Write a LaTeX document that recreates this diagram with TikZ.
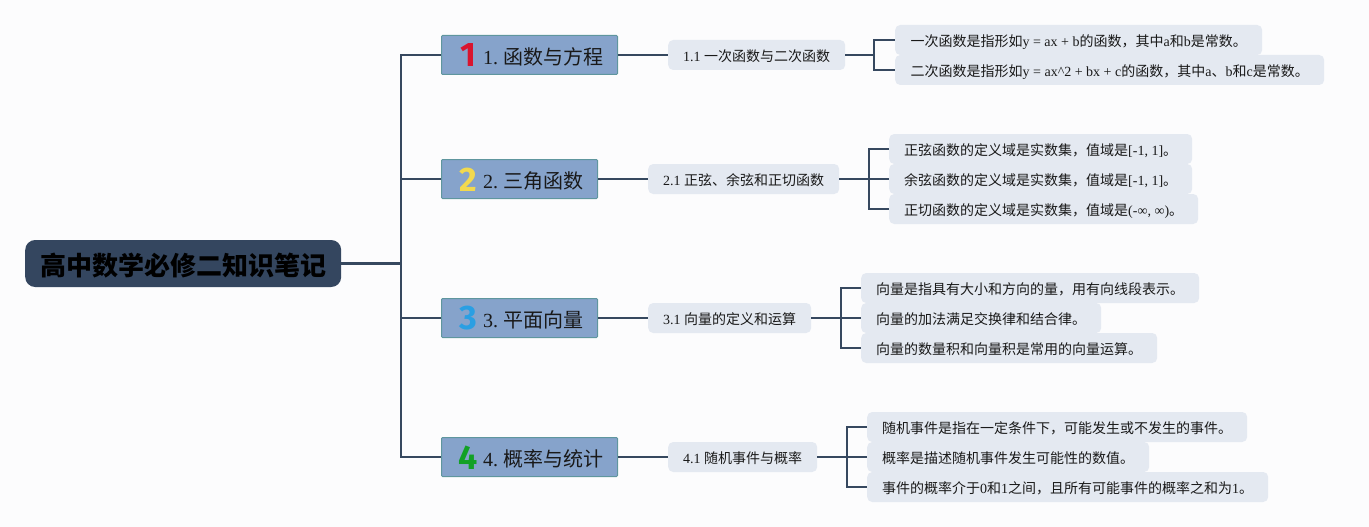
\documentclass[tikz,border=0pt]{standalone}
\usepackage{fontspec}
\setmainfont{Liberation Serif}
\newfontfamily\cjk{Noto Sans CJK SC}
\newfontfamily\marksfont{Fira Sans}
\newcommand{\zh}[1]{{\cjk #1}}
\definecolor{pagebg}{HTML}{FCFCFD}
\definecolor{rootfill}{HTML}{34465F}
\definecolor{topicfill}{HTML}{86A3CB}
\definecolor{topicedge}{HTML}{5F969E}
\definecolor{leaffill}{HTML}{E4E9F1}
\definecolor{linkcol}{HTML}{36485F}
\definecolor{markred}{HTML}{D9142E}
\definecolor{markyellow}{HTML}{F2D94E}
\definecolor{markblue}{HTML}{2A9FE3}
\definecolor{markgreen}{HTML}{12A125}
\tikzset{
  rootnode/.style={fill=rootfill,rounded corners=10pt,anchor=west,minimum width=316pt,minimum height=47pt,inner sep=0pt,text height=23pt,text depth=0pt,font=\fontsize{26}{30}\selectfont\cjk\bfseries,text=black},
  topicnode/.style={fill=topicfill,draw=topicedge,line width=1pt,rounded corners=1pt,anchor=west,minimum height=39pt,inner sep=0pt,text height=19pt,text depth=0pt,font=\fontsize{20}{24}\selectfont,text=black!90},
  subnode/.style={fill=leaffill,rounded corners=5pt,anchor=west,minimum height=30pt,inner sep=0pt,text height=12.5pt,text depth=0pt,font=\fontsize{14}{17}\selectfont,text=black!90},
  leafnode/.style={fill=leaffill,rounded corners=5pt,anchor=west,minimum height=30pt,inner sep=0pt,text height=12.5pt,text depth=0pt,font=\fontsize{14}{17}\selectfont,text=black!90},
  marknum/.style={inner sep=0pt,font=\fontsize{34}{36}\selectfont\marksfont\bfseries},
  linkline/.style={draw=linkcol,line width=2.2pt}
}
\begin{document}
\begin{tikzpicture}[x=1pt,y=-1pt]
\useasboundingbox (0,0) rectangle (1369,527);
\fill[pagebg] (0,0) rectangle (1369,527);
% connectors go first, the boxes sit on top
\coordinate (trunk) at (401,263.5);
\coordinate (fork1) at (874,55);
\coordinate (fork2) at (869,179);
\coordinate (fork3) at (841,318);
\coordinate (fork4) at (847,457);
% main boxes
\node[rootnode] (root) at (25,263.5) {高中数学必修二知识笔记};
\node[topicnode,minimum width=176pt] (topic1) at (441,55) {\hspace*{27pt}1.\hspace{5pt}\zh{函数与方程}};
\node[topicnode,minimum width=156pt] (topic2) at (441,179) {\hspace*{27pt}2.\hspace{5pt}\zh{三角函数}};
\node[topicnode,minimum width=156pt] (topic3) at (441,318) {\hspace*{27pt}3.\hspace{5pt}\zh{平面向量}};
\node[topicnode,minimum width=176pt] (topic4) at (441,457) {\hspace*{27pt}4.\hspace{5pt}\zh{概率与统计}};
\node[marknum,text=markred] (mark1) at (468.5,55.5) {1};
\node[marknum,text=markyellow] (mark2) at (468.5,179.5) {2};
\node[marknum,text=markblue] (mark3) at (468.5,318.5) {3};
\node[marknum,text=markgreen] (mark4) at (468.5,457.5) {4};
% second level
\node[subnode,minimum width=177pt] (sub1) at (668,55) {1.1 \zh{一次函数与二次函数}};
\node[subnode,minimum width=191pt] (sub2) at (648,179) {2.1 \zh{正弦、余弦和正切函数}};
\node[subnode,minimum width=163pt] (sub3) at (648,318) {3.1 \zh{向量的定义和运算}};
\node[subnode,minimum width=149pt] (sub4) at (668,457) {4.1 \zh{随机事件与概率}};
% leaves
\node[leafnode,minimum width=367pt] (leaf11) at (895,40) {\zh{一次函数是指形如}y = ax + b\zh{的函数，其中}a\zh{和}b\zh{是常数。}};
\node[leafnode,minimum width=429pt] (leaf12) at (895,70) {\zh{二次函数是指形如}y = ax\textasciicircum 2 + bx + c\zh{的函数，其中}a\zh{、}b\zh{和}c\zh{是常数。}};
\node[leafnode,minimum width=303pt] (leaf21) at (889,149) {\zh{正弦函数的定义域是实数集，值域是}[-1, 1]\zh{。}};
\node[leafnode,minimum width=303pt] (leaf22) at (889,179) {\zh{余弦函数的定义域是实数集，值域是}[-1, 1]\zh{。}};
\node[leafnode,minimum width=309pt] (leaf23) at (889,209) {\zh{正切函数的定义域是实数集，值域是}(-∞, ∞)\zh{。}};
\node[leafnode,minimum width=338pt] (leaf31) at (861,288) {\zh{向量是指具有大小和方向的量，用有向线段表示。}};
\node[leafnode,minimum width=240pt] (leaf32) at (861,318) {\zh{向量的加法满足交换律和结合律。}};
\node[leafnode,minimum width=296pt] (leaf33) at (861,348) {\zh{向量的数量积和向量积是常用的向量运算。}};
\node[leafnode,minimum width=380pt] (leaf41) at (867,427) {\zh{随机事件是指在一定条件下，可能发生或不发生的事件。}};
\node[leafnode,minimum width=282pt] (leaf42) at (867,457) {\zh{概率是描述随机事件发生可能性的数值。}};
\node[leafnode,minimum width=401pt] (leaf43) at (867,487) {\zh{事件的概率介于}0\zh{和}1\zh{之间，且所有可能事件的概率之和为}1\zh{。}};
% connectors
\draw[linkline] (root.east) -- (trunk);
\draw[linkline] (trunk) |- (topic1.west);
\draw[linkline] (trunk) |- (topic2.west);
\draw[linkline] (trunk) |- (topic3.west);
\draw[linkline] (trunk) |- (topic4.west);
\draw[linkline] (topic1.east) -- (sub1.west);
\draw[linkline] (topic2.east) -- (sub2.west);
\draw[linkline] (topic3.east) -- (sub3.west);
\draw[linkline] (topic4.east) -- (sub4.west);
\draw[linkline] (sub1.east) -- (fork1);
\draw[linkline] (fork1) |- (leaf11.west);
\draw[linkline] (fork1) |- (leaf12.west);
\draw[linkline] (sub2.east) -- (fork2);
\draw[linkline] (fork2) |- (leaf21.west);
\draw[linkline] (fork2) -- (leaf22.west);
\draw[linkline] (fork2) |- (leaf23.west);
\draw[linkline] (sub3.east) -- (fork3);
\draw[linkline] (fork3) |- (leaf31.west);
\draw[linkline] (fork3) -- (leaf32.west);
\draw[linkline] (fork3) |- (leaf33.west);
\draw[linkline] (sub4.east) -- (fork4);
\draw[linkline] (fork4) |- (leaf41.west);
\draw[linkline] (fork4) -- (leaf42.west);
\draw[linkline] (fork4) |- (leaf43.west);
\end{tikzpicture}
\end{document}
